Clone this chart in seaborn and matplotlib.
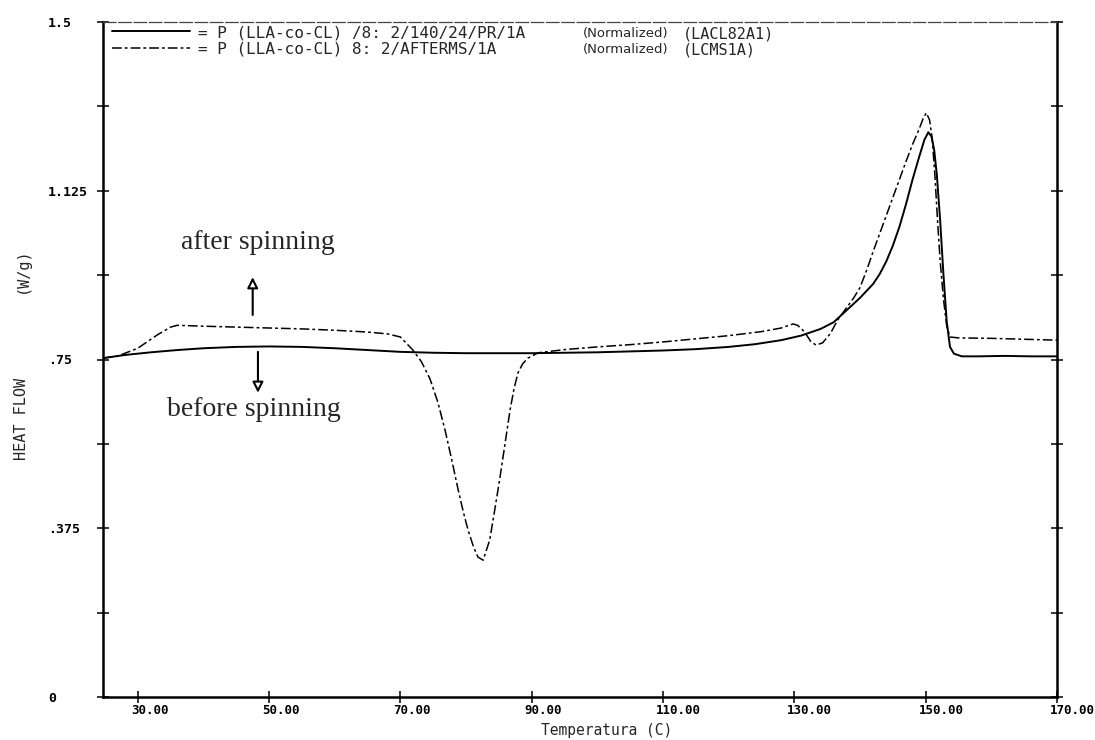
import numpy as np
import pandas as pd
import matplotlib
matplotlib.use("Agg")
import matplotlib.pyplot as plt
from matplotlib.transforms import ScaledTranslation
import seaborn as sns

# DSC heat-flow traces of P(LLA-co-CL), before and after melt spinning
temp_before = [24.7, 28, 32, 36, 40, 45, 50, 55, 60, 65, 70, 75, 80, 85, 90, 95,
               100, 105, 110, 115, 120, 124, 128, 131, 134, 136, 138, 140, 142,
               143, 144, 145, 146, 147, 148, 149, 149.8, 150.4, 150.9, 151.3,
               151.7, 152.2, 152.7, 153.2, 153.7, 154.3, 155.5, 158, 162, 166,
               170]
flow_before = [0.753, 0.760, 0.766, 0.771, 0.775, 0.778, 0.779, 0.778, 0.775,
               0.771, 0.767, 0.765, 0.764, 0.764, 0.764, 0.765, 0.766, 0.768,
               0.770, 0.773, 0.778, 0.784, 0.793, 0.803, 0.818, 0.833, 0.860,
               0.887, 0.918, 0.940, 0.968, 1.003, 1.045, 1.095, 1.150, 1.200,
               1.238, 1.255, 1.245, 1.215, 1.160, 1.060, 0.940, 0.835, 0.778,
               0.763, 0.757, 0.757, 0.758, 0.757, 0.757]

temp_after = [24.7, 27, 30, 33, 35, 36, 40, 45, 50, 55, 60, 65, 68, 70, 71.9,
              73.2, 74.5, 75.7, 76.8, 77.8, 78.8, 79.6, 80.3, 81.1, 81.8, 82.6,
              83.6, 84.3, 85.1, 85.9, 86.7, 87.3, 87.9, 88.6, 89.4, 91, 95, 100,
              105, 110, 115, 120, 125, 128, 129.8, 130.5, 131.5, 132.5, 133.3,
              134.3, 135.5, 136.6, 138, 139, 140, 141, 142, 143, 144, 145, 146,
              147, 148, 149, 149.6, 150.1, 150.6, 151, 151.4, 151.8, 152.2,
              152.7, 153.2, 153.7, 155, 160, 165, 170]
flow_after = [0.753, 0.758, 0.775, 0.805, 0.822, 0.826, 0.824, 0.822, 0.820,
              0.818, 0.815, 0.811, 0.807, 0.800, 0.771, 0.745, 0.707, 0.655,
              0.593, 0.528, 0.460, 0.410, 0.371, 0.335, 0.311, 0.304, 0.349,
              0.410, 0.482, 0.560, 0.638, 0.685, 0.720, 0.740, 0.753, 0.765,
              0.772, 0.778, 0.783, 0.789, 0.796, 0.803, 0.812, 0.820, 0.829,
              0.826, 0.812, 0.790, 0.782, 0.787, 0.808, 0.838, 0.866, 0.886,
              0.910, 0.948, 0.990, 1.030, 1.070, 1.110, 1.150, 1.190, 1.228,
              1.262, 1.285, 1.298, 1.282, 1.240, 1.160, 1.060, 0.970, 0.885,
              0.825, 0.800, 0.798, 0.797, 0.795, 0.793]

x_ticks = [30, 50, 70, 90, 110, 130, 150, 170]
x_tick_labels = ["30.00", "50.00", "70.00", "90.00", "110.00", "130.00",
                 "150.00", "170.00"]
y_ticks = [0, 0.1875, 0.375, 0.5625, 0.75, 0.9375, 1.125, 1.3125, 1.5]
y_tick_labels = ["0", "", ".375", "", ".75", "", "1.125", "", "1.5"]

legend_labels = ["= P (LLA-co-CL) /8: 2/140/24/PR/1A",
                 "= P (LLA-co-CL) 8: 2/AFTERMS/1A"]
legend_codes = ["(LACL82A1)", "(LCMS1A)"]

sns.set_theme(style="white")
plt.rcParams["font.family"] = ["DejaVu Sans"]
plt.rcParams["lines.scale_dashes"] = False

W, H = 1095, 740
fig = plt.figure(figsize=(W / 100, H / 100), dpi=100)
ax = fig.add_axes([103 / W, 43 / H, 954 / W, 675 / H])

df_b = pd.DataFrame({"T": temp_before, "Q": flow_before})
df_a = pd.DataFrame({"T": temp_after, "Q": flow_after})
sns.lineplot(data=df_b, x="T", y="Q", ax=ax, color="black", lw=1.4,
             sort=False, estimator=None)
sns.lineplot(data=df_a, x="T", y="Q", ax=ax, color="black", lw=1.1,
             sort=False, estimator=None)
line_b, line_a = ax.lines[0], ax.lines[1]
line_a.set_dashes((7, 2.2, 2, 2.2))

ax.set_xlim(24.7, 170)
ax.set_ylim(0, 1.5)
ax.set_xlabel("")
ax.set_ylabel("")

# axes frame: heavy left/bottom/right, broken top rule
for side in ("left", "bottom", "right"):
    ax.spines[side].set_linewidth(1.8)
    ax.spines[side].set_color("black")
ax.spines["top"].set_linewidth(0.9)
ax.spines["top"].set_color("#444444")
ax.spines["top"].set_linestyle((0, (9, 2)))

mono = "DejaVu Sans Mono"
ax.set_xticks(x_ticks)
ax.set_xticklabels(x_tick_labels, family=mono, fontsize=9, ha="left",
                   fontweight="bold")
ax.set_yticks(y_ticks)
ax.set_yticklabels(y_tick_labels, family=mono, fontsize=9.5, ha="left",
                   fontweight="bold")
ax.tick_params(axis="x", direction="inout", length=9, width=1.1,
               bottom=True, top=False, pad=0.5, colors="black")
ax.tick_params(axis="y", direction="inout", length=9, width=1.1,
               left=True, right=True, pad=35, colors="black")
shift = ScaledTranslation(-7 / 100, 0, fig.dpi_scale_trans)
for lab in ax.get_xticklabels():
    lab.set_transform(lab.get_transform() + shift)

# axis titles
fig.text(607 / W, 1 - 730 / H, "Temperatura (C)", family=mono, fontsize=10.5,
         ha="center", va="center")
fig.text(22 / W, 1 - 419 / H, "HEAT FLOW", family=mono, fontsize=11,
         rotation=90, ha="center", va="center")
fig.text(22 / W, 1 - 270 / H, "(W/g)", family=mono, fontsize=11,
         rotation=90, ha="center", va="center")

# legend
leg = ax.legend(handles=[line_b, line_a], labels=legend_labels,
                loc="upper left", bbox_to_anchor=(9 / 954, 1 - 3 / 675),
                frameon=False, borderpad=0, borderaxespad=0,
                handlelength=4.9, handletextpad=0.5, labelspacing=0.12,
                prop={"family": mono, "size": 11.5})
row_y = [1 - 12 / 675, 1 - 28 / 675]
for yy, code in zip(row_y, legend_codes):
    ax.text(480 / 954, yy, "(Normalized)", transform=ax.transAxes,
            fontsize=9.5, ha="left", va="center")
    ax.text(580 / 954, yy, code, transform=ax.transAxes,
            family=mono, fontsize=11, ha="left", va="center")

# annotations
serif = "Liberation Serif"
ax.text(48.3, 1.009, "after spinning", family=serif, fontsize=20,
        ha="center", va="center")
ax.text(47.7, 0.638, "before spinning", family=serif, fontsize=20,
        ha="center", va="center")
arrow = dict(arrowstyle="-|>", fc="white", ec="black", lw=1.5,
             mutation_scale=16, shrinkA=0, shrinkB=0)
ax.annotate("", xy=(47.5, 0.933), xytext=(47.5, 0.849), arrowprops=arrow)
ax.annotate("", xy=(48.3, 0.676), xytext=(48.3, 0.767), arrowprops=arrow)

fig.savefig("out.png", dpi=100, facecolor="white")
